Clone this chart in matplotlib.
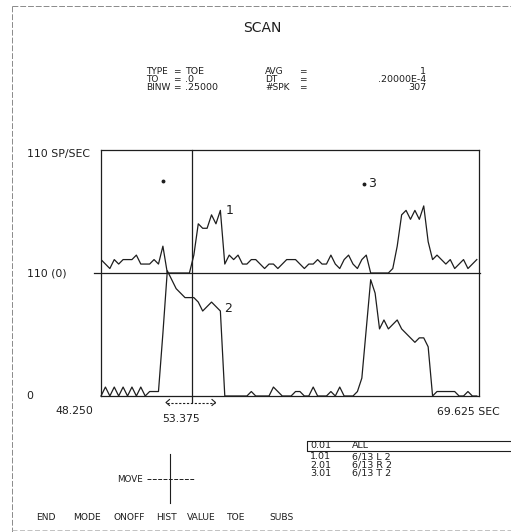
import matplotlib
matplotlib.use("Agg")
import matplotlib.pyplot as plt
import numpy as np

# scan window and cursor (sec)
t_start = 48.25
t_end = 69.625
bin_w = 0.25
cursor_t = 53.375
full_scale = 110  # sp/sec for one half of the display

# spike rate per 0.25 s bin, sp/sec
rate_L = [12, 8, 4, 12, 8, 12, 12, 12, 16, 8,
          8, 8, 12, 8, 24, 0, 0, 0, 0, 0,
          0, 16, 44, 40, 40, 52, 44, 56, 8, 16,
          12, 16, 8, 8, 12, 12, 8, 4, 8, 8,
          4, 8, 12, 12, 12, 8, 4, 8, 8, 12,
          8, 8, 16, 8, 4, 12, 16, 8, 4, 12,
          16, 0, 0, 0, 0, 0, 4, 24, 52, 56,
          48, 56, 48, 60, 28, 12, 16, 12, 8, 12,
          4, 8, 12, 4, 8, 12]
rate_R = [0, 8, 0, 8, 0, 8, 0, 8, 0, 8,
          0, 4, 4, 4, 56, 112, 104, 96, 92, 88,
          88, 88, 84, 76, 80, 84, 80, 76, 0, 0,
          0, 0, 0, 0, 4, 0, 0, 0, 0, 8,
          4, 0, 0, 0, 4, 4, 0, 0, 8, 0,
          0, 0, 4, 0, 8, 0, 0, 0, 4, 16,
          60, 104, 92, 60, 68, 60, 64, 68, 60, 56,
          52, 48, 52, 52, 44, 0, 4, 4, 4, 4,
          4, 0, 0, 4, 0, 0]

# unit markers drawn in the display (time, sp/sec)
marker_t = [51.75, 63.15]
marker_y = [192, 190]

hdr_names1 = ["TYPE", "TO", "BINW"]
hdr_vals1 = ["TOE", ".0", ".25000"]
hdr_names2 = ["AVG", "DT", "#SPK"]
hdr_vals2 = ["1", ".20000E-4", "307"]

unit_ids = ["0.01", "1.01", "2.01", "3.01"]
unit_names = ["ALL", "6/13 L 2", "6/13 R 2", "6/13 T 2"]

menu_items = ["END", "MODE", "ONOFF", "HIST", "VALUE", "TOE", "SUBS"]
menu_x = [36, 73, 114, 156, 187, 227, 269]

W, H = 511, 532
ink = "#1e1e1e"
fnt = "DejaVu Sans"

fig = plt.figure(figsize=(W / 100, H / 100), dpi=100)
fig.patch.set_facecolor("white")

# screen layer in pixel units, y pointing down
ov = fig.add_axes([0, 0, 1, 1], zorder=0)
ov.set_xlim(0, W)
ov.set_ylim(H, 0)
ov.axis("off")

# plot box
bx0, bx1, by0, by1 = 101, 479, 150, 396
ax = fig.add_axes([bx0 / W, (H - by1) / H, (bx1 - bx0) / W, (by1 - by0) / H], zorder=1)
ax.patch.set_alpha(0)
ax.set_xlim(t_start, t_end)
ax.set_ylim(0, 2 * full_scale)
ax.set_xticks([])
ax.set_yticks([])
for s in ax.spines.values():
    s.set_color(ink)
    s.set_linewidth(0.9)


def px(t):
    return bx0 + (t - t_start) / (t_end - t_start) * (bx1 - bx0)


times = t_start + bin_w * np.arange(len(rate_L))
ax.plot(times, full_scale + np.array(rate_L), color=ink, lw=0.9)
ax.plot(times, np.array(rate_R), color=ink, lw=0.9, clip_on=False)

ax.axhline(full_scale, xmin=-7 / (bx1 - bx0), xmax=1.003, color=ink, lw=0.9, clip_on=False)
ax.axvline(cursor_t, ymin=-6 / (by1 - by0), ymax=1, color=ink, lw=0.9, clip_on=False)
ax.plot(marker_t, marker_y, ls="none", marker="o", ms=1.8, color=ink)
ax.text(marker_t[1] + 0.2, marker_y[1], "3", fontsize=9, family=fnt, color=ink, va="center", ha="left")
ax.text(55.3, 166, "1", fontsize=9, family=fnt, color=ink, va="center", ha="left")
ax.text(55.2, 78, "2", fontsize=9, family=fnt, color=ink, va="center", ha="left")

# dashed screen border
ov.plot([12, W + 2], [6, 6], color="#8a8a8a", lw=0.7, ls=(0, (6, 2)))
ov.plot([12, 12], [6, H + 2], color="#8a8a8a", lw=0.7, ls=(0, (6, 2)))
ov.plot([12, W + 2], [530, 530], color="#b8b8b8", lw=0.6, ls=(0, (6, 3)))

ov.text(262, 28, "SCAN", fontsize=10, family=fnt, color=ink, ha="center", va="center")

hdr_y = [72, 80, 88]
for i in range(3):
    y = hdr_y[i]
    ov.text(146, y, hdr_names1[i], fontsize=6.5, family=fnt, color=ink, va="center")
    ov.text(177, y, "=", fontsize=6.5, family=fnt, color=ink, va="center", ha="center")
    ov.text(185, y, hdr_vals1[i], fontsize=6.8, family=fnt, color=ink, va="center")
    ov.text(265, y, hdr_names2[i], fontsize=6.5, family=fnt, color=ink, va="center")
    ov.text(303, y, "=", fontsize=6.5, family=fnt, color=ink, va="center", ha="center")
    ov.text(426, y, hdr_vals2[i], fontsize=6.8, family=fnt, color=ink, va="center", ha="right")

# axis annotations
lab = 7.8
ov.text(27, 154, "%d SP/SEC" % full_scale, fontsize=lab, family=fnt, color=ink, va="center")
ov.text(27, 273, "%d (0)" % full_scale, fontsize=lab, family=fnt, color=ink, va="center")
ov.text(26, 396, "0", fontsize=lab, family=fnt, color=ink, va="center")
ov.text(55, 411, "%.3f" % t_start, fontsize=lab, family=fnt, color=ink, va="center")
ov.text(px(cursor_t) - 11, 419, "%.3f" % cursor_t, fontsize=lab, family=fnt, color=ink, va="center", ha="center")
ov.text(500, 412, "%.3f SEC" % t_end, fontsize=lab, family=fnt, color=ink, va="center", ha="right")

# cursor move arrow
ax0, ax1 = px(cursor_t - 1.45), px(cursor_t + 1.35)
ay = 402.5
ov.plot([ax0 + 1, ax1 - 1], [ay, ay], color=ink, lw=0.8, ls=(0, (2, 1.5)))
ov.plot([ax0 + 3.5, ax0, ax0 + 3.5], [ay - 3, ay, ay + 3], color=ink, lw=0.8)
ov.plot([ax1 - 3.5, ax1, ax1 - 3.5], [ay - 3, ay, ay + 3], color=ink, lw=0.8)

# unit list
ov.plot([W + 2, 307, 307, W + 2], [441, 441, 451, 451], color=ink, lw=0.8)
unit_y = [446, 456.5, 465, 473.5]
for i in range(len(unit_ids)):
    ov.text(310, unit_y[i], unit_ids[i], fontsize=6.8, family=fnt, color=ink, va="center")
    ov.text(352, unit_y[i], unit_names[i], fontsize=6.8, family=fnt, color=ink, va="center")

# move cross
ov.text(117, 479, "MOVE", fontsize=6.3, family=fnt, color=ink, va="center")
ov.plot([147, 194], [479, 479], color=ink, lw=0.7, ls=(0, (4, 1.5)))
ov.plot([170, 170], [454, 503], color=ink, lw=0.8)

for name, x in zip(menu_items, menu_x):
    ov.text(x, 518, name, fontsize=6.6, family=fnt, color=ink, va="center")

fig.savefig("out.png", dpi=100, facecolor="white")
